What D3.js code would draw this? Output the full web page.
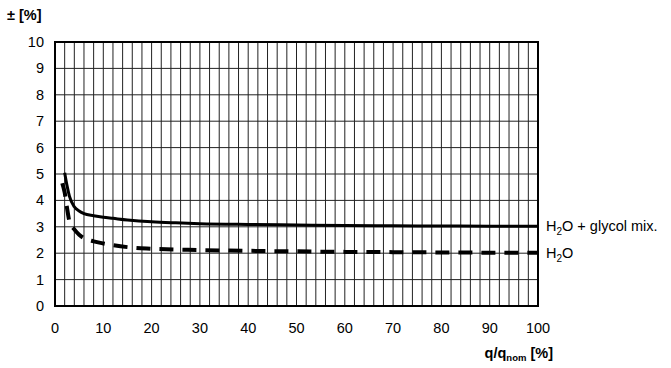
<!DOCTYPE html>
<html><head><meta charset="utf-8">
<script src="https://cdn.jsdelivr.net/npm/d3@7"></script>
<style>body{margin:0;background:#fff}svg{display:block;font-family:"Liberation Sans",Arial,sans-serif}</style>
</head><body>
<svg id="c" width="671" height="368"></svg>
<script>
const xTicks = [0,10,20,30,40,50,60,70,80,90,100];
const yTicks = [0,1,2,3,4,5,6,7,8,9,10];
const glycolX = [2, 2.5, 3, 4, 5, 6, 8, 10, 12, 15, 20, 25, 30, 40, 50, 60, 70, 80, 90, 100];
const glycolY = [5.05, 4.55, 4.15, 3.76, 3.6, 3.5, 3.42, 3.36, 3.32, 3.26, 3.19, 3.15, 3.12, 3.09, 3.07, 3.05, 3.04, 3.03, 3.02, 3.02];
const waterX = [1.5, 2, 2.5, 3, 4, 5, 6, 8, 10, 15, 20, 30, 40, 50, 60, 70, 80, 90, 100];
const waterY = [4.65, 4.3, 3.7, 3.2, 2.9, 2.7, 2.57, 2.45, 2.37, 2.23, 2.17, 2.12, 2.09, 2.07, 2.05, 2.04, 2.03, 2.02, 2.02];

const svg = d3.select("#c");
const L = 55, R = 538, T = 42, B = 306;
const x = d3.scaleLinear().domain([0,100]).range([L,R]);
const y = d3.scaleLinear().domain([0,10]).range([B,T]);

const g = svg.append("g");
g.selectAll(".vg").data(d3.range(2,100,2)).join("line")
  .attr("x1", d=>x(d)).attr("x2", d=>x(d)).attr("y1", T).attr("y2", B)
  .attr("stroke", "#222").attr("stroke-width", 1);
g.selectAll(".hg").data(d3.range(1,10)).join("line")
  .attr("x1", L).attr("x2", R).attr("y1", d=>y(d)).attr("y2", d=>y(d))
  .attr("stroke", "#222").attr("stroke-width", 1);
g.append("rect").attr("x", L).attr("y", T).attr("width", R-L).attr("height", B-T)
  .attr("fill", "none").attr("stroke", "#000").attr("stroke-width", 2);

svg.append("g").selectAll("text").data(xTicks).join("text")
  .attr("x", d=>x(d)).attr("y", 333).attr("text-anchor","middle")
  .attr("font-size", 14.5).text(d=>d);
svg.append("g").selectAll("text").data(yTicks).join("text")
  .attr("x", 44).attr("y", d=>y(d)+5).attr("text-anchor","end")
  .attr("font-size", 14.5).text(d=>d);

const line = d3.line().x(d=>x(d[0])).y(d=>y(d[1])).curve(d3.curveMonotoneX);
svg.append("path").datum(glycolX.map((v,i)=>[v,glycolY[i]])).attr("d", line)
  .attr("fill","none").attr("stroke","#000").attr("stroke-width",3);
svg.append("path").datum(waterX.map((v,i)=>[v,waterY[i]])).attr("d", line)
  .attr("fill","none").attr("stroke","#000").attr("stroke-width",4)
  .attr("stroke-dasharray","14,9");

const t1 = svg.append("text").attr("x", 546).attr("y", y(3.02)+5).attr("font-size", 14.5);
t1.append("tspan").text("H");
t1.append("tspan").attr("font-size", 10).attr("dy", 4).text("2");
t1.append("tspan").attr("dy", -4).text("O + glycol mix.");
const t2 = svg.append("text").attr("x", 546).attr("y", y(2.02)+5).attr("font-size", 14.5);
t2.append("tspan").text("H");
t2.append("tspan").attr("font-size", 10).attr("dy", 4).text("2");
t2.append("tspan").attr("dy", -4).text("O");

svg.append("text").attr("x", 7).attr("y", 20).attr("font-size", 14.5).attr("font-weight","bold").text("± [%]");
const xt = svg.append("text").attr("x", 553).attr("y", 358).attr("text-anchor","end")
  .attr("font-size", 14.5).attr("font-weight","bold");
xt.append("tspan").text("q/q");
xt.append("tspan").attr("font-size", 9.5).attr("dy", 3).text("nom");
xt.append("tspan").attr("dy", -3).text(" [%]");
</script>
</body></html>
